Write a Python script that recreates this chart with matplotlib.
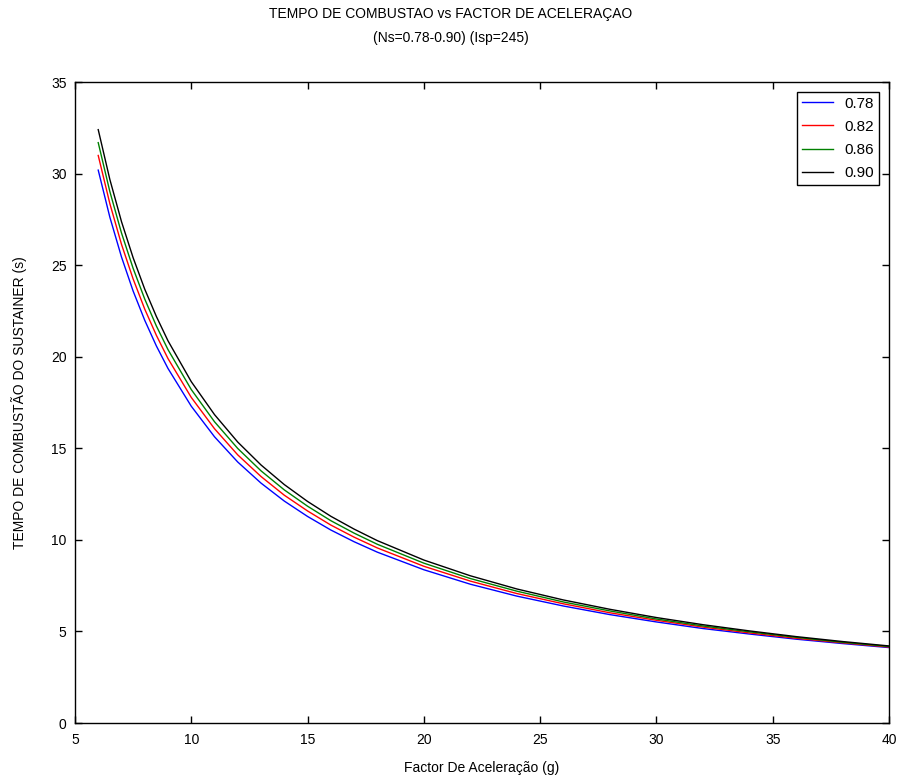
import numpy as np
import matplotlib
matplotlib.use("Agg")
import matplotlib.pyplot as plt

# factor de aceleracao (g)
n = [6, 6.5, 7, 7.5, 8, 8.5, 9, 10, 11, 12, 13, 14, 15, 16, 17, 18,
     20, 22, 24, 26, 28, 30, 32, 34, 36, 38, 40]

# tempo de combustao (s), uma lista por Ns
t_078 = [30.19, 27.62, 25.45, 23.59, 21.99, 20.59, 19.36, 17.30, 15.63, 14.25,
         13.10, 12.12, 11.28, 10.54, 9.90, 9.33, 8.37, 7.58, 6.93, 6.39,
         5.92, 5.52, 5.16, 4.86, 4.58, 4.34, 4.12]
t_082 = [30.99, 28.36, 26.14, 24.25, 22.60, 21.17, 19.90, 17.78, 16.07, 14.64,
         13.46, 12.44, 11.58, 10.81, 10.15, 9.56, 8.56, 7.75, 7.07, 6.51,
         6.02, 5.61, 5.24, 4.92, 4.63, 4.38, 4.15]
t_086 = [31.69, 29.02, 26.76, 24.83, 23.15, 21.68, 20.39, 18.21, 16.45, 14.99,
         13.77, 12.73, 11.84, 11.05, 10.37, 9.76, 8.73, 7.89, 7.20, 6.61,
         6.12, 5.68, 5.30, 4.98, 4.68, 4.41, 4.18]
t_090 = [32.40, 29.68, 27.38, 25.41, 23.69, 22.20, 20.87, 18.64, 16.84, 15.34,
         14.09, 13.02, 12.10, 11.29, 10.59, 9.96, 8.90, 8.04, 7.32, 6.72,
         6.21, 5.76, 5.37, 5.03, 4.72, 4.45, 4.21]

labels = ['0.78', '0.82', '0.86', '0.90']
cores = ['#0000ff', '#ff0000', '#008000', '#000000']

plt.rcParams['font.family'] = ['Liberation Sans', 'DejaVu Sans']

fig = plt.figure(figsize=(9.01, 7.82), dpi=100)
ax = fig.add_axes([0.0832, 0.0754, 0.9035, 0.8197])

for t, lab, c in zip([t_078, t_082, t_086, t_090], labels, cores):
    ax.plot(n, t, color=c, lw=1.0, label=lab)

ax.set_xlim(5, 40)
ax.set_ylim(0, 35)
ax.set_xticks(np.arange(5, 41, 5))
ax.set_yticks(np.arange(0, 36, 5))
ax.tick_params(direction='in', top=True, right=True, length=5, width=1,
               labelsize=10)
ax.tick_params(axis='x', pad=7)
ax.tick_params(axis='y', pad=6)
for s in ax.spines.values():
    s.set_linewidth(1.0)

ax.set_xlabel('Factor De Aceleração (g)', fontsize=10, labelpad=10)
ax.set_ylabel('TEMPO DE COMBUSTÃO DO SUSTAINER (s)', fontsize=10, labelpad=17)
fig.text(0.5, 0.982, 'TEMPO DE COMBUSTAO vs FACTOR DE ACELERAÇAO',
         ha='center', va='center', fontsize=10)
fig.text(0.5, 0.951, '(Ns=0.78-0.90) (Isp=245)',
         ha='center', va='center', fontsize=10)

leg = ax.legend(loc='upper right', bbox_to_anchor=(879 / 901, 1 - 92 / 782),
                bbox_transform=fig.transFigure, borderaxespad=0,
                fancybox=False, framealpha=1, edgecolor='black',
                fontsize=11, handlelength=2.0, labelspacing=0.6,
                handletextpad=0.8, borderpad=0.3)
leg.get_frame().set_linewidth(1.0)

fig.savefig('out.png', dpi=100)
